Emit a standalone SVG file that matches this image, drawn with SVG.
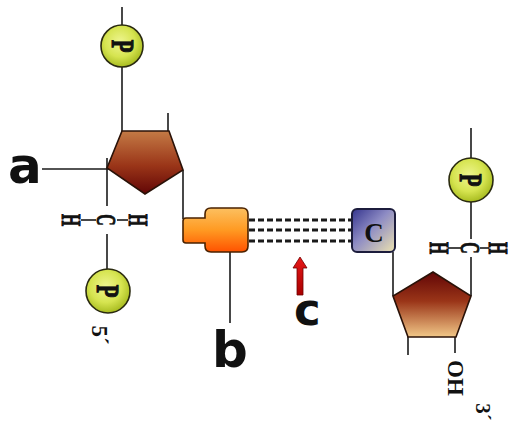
<svg xmlns="http://www.w3.org/2000/svg" width="512" height="425" viewBox="0 0 512 425">
<defs>
<style>
.ln{stroke:#1a1a1a;stroke-width:1.6;fill:none}
.dash{stroke:#1a1a1a;stroke-width:3;stroke-dasharray:6 3;fill:none}
.ser{font-family:"Liberation Serif","DejaVu Serif",serif;font-weight:bold;fill:#111}
.hv{stroke:#111;stroke-width:0.9}
.lab{font-family:"DejaVu Sans","Liberation Sans",sans-serif;font-weight:bold;fill:#111}
.pc{fill:url(#gP);stroke:#2a2a10;stroke-width:1.6}
</style>
<radialGradient id="gP" cx="0.45" cy="0.4" r="0.6">
<stop offset="0" stop-color="#eef590"/>
<stop offset="0.6" stop-color="#d6e450"/>
<stop offset="1" stop-color="#a8bc20"/>
</radialGradient>
<linearGradient id="gS1" x1="0" y1="0" x2="0" y2="1">
<stop offset="0" stop-color="#c47a45"/>
<stop offset="0.55" stop-color="#9a3518"/>
<stop offset="1" stop-color="#620606"/>
</linearGradient>
<linearGradient id="gS2" x1="0" y1="0" x2="0" y2="1">
<stop offset="0" stop-color="#620606"/>
<stop offset="0.45" stop-color="#9a3518"/>
<stop offset="1" stop-color="#f2c888"/>
</linearGradient>
<linearGradient id="gB" x1="0" y1="0" x2="0" y2="1">
<stop offset="0" stop-color="#fcc060"/>
<stop offset="0.5" stop-color="#ff9a22"/>
<stop offset="1" stop-color="#ff5200"/>
</linearGradient>
<linearGradient id="gC" x1="0" y1="0" x2="1" y2="1">
<stop offset="0" stop-color="#34348e"/>
<stop offset="0.45" stop-color="#8e8cc4"/>
<stop offset="1" stop-color="#ece2b0"/>
</linearGradient>
<linearGradient id="gA" x1="0" y1="0" x2="0" y2="1">
<stop offset="0" stop-color="#e81818"/>
<stop offset="1" stop-color="#a80000"/>
</linearGradient>
</defs>
<rect width="512" height="425" fill="#ffffff"/>

<g id="connectors">
<line class="ln" x1="122" y1="7" x2="122" y2="25"/>
<line class="ln" x1="122" y1="67" x2="122" y2="131"/>
<line class="ln" x1="168" y1="113" x2="168" y2="131"/>
<line class="ln" x1="42" y1="169" x2="133" y2="169"/>
<line class="ln" x1="107" y1="158" x2="107" y2="206"/>
<line class="ln" x1="107" y1="234" x2="107" y2="269"/>
<line class="ln" x1="183" y1="170" x2="183" y2="219"/>
<line class="ln" x1="230" y1="246" x2="230" y2="323"/>
<line class="dash" x1="249" y1="220" x2="352" y2="220"/>
<line class="dash" x1="249" y1="230" x2="352" y2="230"/>
<line class="dash" x1="249" y1="241" x2="352" y2="241"/>
<line class="ln" x1="393" y1="252" x2="393" y2="296"/>
<line class="ln" x1="471" y1="296" x2="471" y2="257"/>
<line class="ln" x1="471" y1="239" x2="471" y2="202"/>
<line class="ln" x1="471" y1="158" x2="471" y2="128"/>
<line class="ln" x1="408" y1="337" x2="408" y2="355"/>
<line class="ln" x1="455" y1="337" x2="455" y2="353"/>
<line class="ln" x1="81" y1="220" x2="96" y2="220"/>
<line class="ln" x1="117" y1="220" x2="128" y2="220"/>
<line class="ln" x1="448" y1="248" x2="461" y2="248"/>
<line class="ln" x1="480" y1="248" x2="489" y2="248"/>
</g>

<g id="phosphate-top">
<circle class="pc" cx="122" cy="46" r="21"/>
<text class="ser hv" font-size="26" text-anchor="middle" dominant-baseline="central" transform="translate(123,46) rotate(90) scale(0.8,1.2)">P</text>
</g>

<g id="sugar-left">
<path d="M122 131 L169 131 L183 170 L145 194 L107 168 Z" fill="url(#gS1)" stroke="#2a1208" stroke-width="1.6"/>
</g>

<g id="label-a">
<text class="lab" x="8" y="183" font-size="50">a</text>
</g>

<g id="hch-left">
<text class="ser hv" font-size="24" text-anchor="middle" dominant-baseline="central" transform="translate(71,220) rotate(90) scale(0.65,1.15)">H</text>
<text class="ser hv" font-size="24" text-anchor="middle" dominant-baseline="central" transform="translate(106,220) rotate(90) scale(0.65,1.15)">C</text>
<text class="ser hv" font-size="24" text-anchor="middle" dominant-baseline="central" transform="translate(138,220) rotate(90) scale(0.65,1.15)">H</text>
</g>

<g id="phosphate-5">
<circle class="pc" cx="108" cy="291" r="22"/>
<text class="ser hv" font-size="26" text-anchor="middle" dominant-baseline="central" transform="translate(108,291) rotate(90) scale(0.8,1.2)">P</text>
<text class="ser" font-size="23" text-anchor="middle" dominant-baseline="central" transform="translate(99,335) rotate(90)">5´</text>
</g>

<g id="base-b">
<path d="M186 218 H205 V214 Q205 208 211 208 H242 Q248 208 248 214 V246 Q248 252 242 252 H211 Q205 252 205 246 V243 H186 Q183 243 183 240 V221 Q183 218 186 218 Z" fill="url(#gB)" stroke="#4a2200" stroke-width="1.6"/>
</g>

<g id="label-b">
<text class="lab" x="212" y="367" font-size="50">b</text>
</g>

<g id="base-c">
<rect x="352" y="209" width="43" height="43" rx="5" fill="url(#gC)" stroke="#1c1c3c" stroke-width="2"/>
<text class="ser" x="374" y="242" font-size="27" text-anchor="middle">C</text>
</g>

<g id="arrow-c">
<path d="M300 257 L307 268 L303 268 L303 295 L297 295 L297 268 L293 268 Z" fill="url(#gA)" stroke="#700000" stroke-width="0.8"/>
<text class="lab" x="294" y="325" font-size="45">c</text>
</g>

<g id="sugar-right">
<path d="M433 272 L471 296 L456 337 L408 337 L393 296 Z" fill="url(#gS2)" stroke="#2a1208" stroke-width="1.6"/>
<text class="ser" font-size="23" text-anchor="middle" dominant-baseline="central" transform="translate(455,378) rotate(90)">OH</text>
<text class="ser" font-size="21" text-anchor="middle" dominant-baseline="central" transform="translate(483,412) rotate(90)">3´</text>
</g>

<g id="hch-right">
<text class="ser hv" font-size="24" text-anchor="middle" dominant-baseline="central" transform="translate(439,248) rotate(90) scale(0.65,1.15)">H</text>
<text class="ser hv" font-size="24" text-anchor="middle" dominant-baseline="central" transform="translate(470,248) rotate(90) scale(0.65,1.15)">C</text>
<text class="ser hv" font-size="24" text-anchor="middle" dominant-baseline="central" transform="translate(498,248) rotate(90) scale(0.65,1.15)">H</text>
</g>

<g id="phosphate-right">
<circle class="pc" cx="471" cy="180" r="22"/>
<text class="ser hv" font-size="26" text-anchor="middle" dominant-baseline="central" transform="translate(471,180) rotate(90) scale(0.8,1.2)">P</text>
</g>
</svg>
